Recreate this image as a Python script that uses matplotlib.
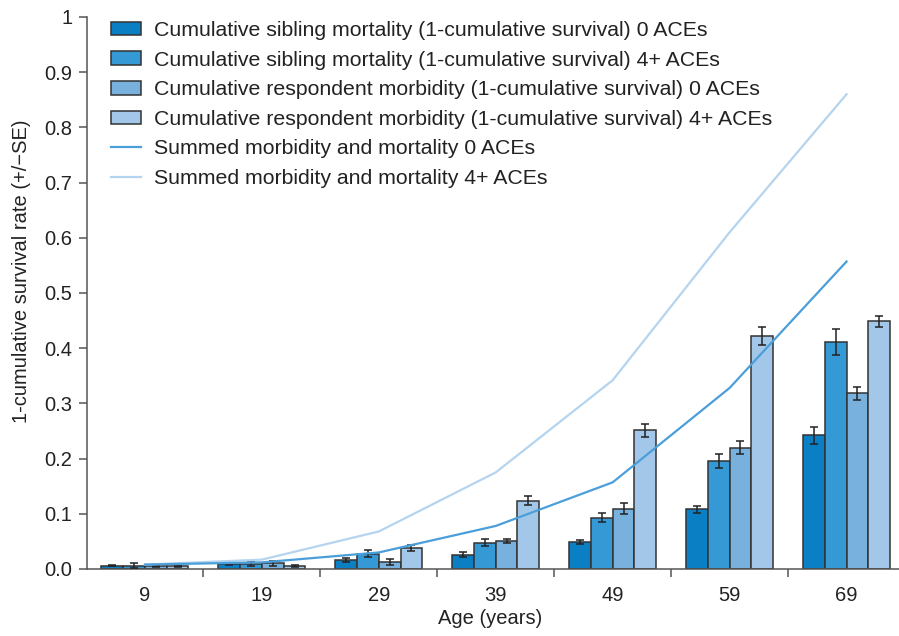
import matplotlib
matplotlib.use("Agg")
import matplotlib.pyplot as plt
import numpy as np
from matplotlib.patches import Patch
from matplotlib.lines import Line2D

plt.rcParams['font.family'] = ['Liberation Sans', 'DejaVu Sans']

ages = ['9', '19', '29', '39', '49', '59', '69']
sib0 = [0.006, 0.009, 0.016, 0.026, 0.049, 0.108, 0.242]
sib0_se = [0.001, 0.002, 0.004, 0.004, 0.004, 0.006, 0.016]
sib4 = [0.006, 0.009, 0.028, 0.048, 0.093, 0.196, 0.411]
sib4_se = [0.005, 0.004, 0.006, 0.006, 0.008, 0.013, 0.023]
res0 = [0.005, 0.010, 0.013, 0.051, 0.109, 0.220, 0.318]
res0_se = [0.001, 0.005, 0.005, 0.004, 0.010, 0.011, 0.012]
res4 = [0.005, 0.006, 0.038, 0.124, 0.251, 0.422, 0.449]
res4_se = [0.001, 0.002, 0.005, 0.008, 0.012, 0.017, 0.010]
sum0 = [0.008, 0.012, 0.030, 0.078, 0.157, 0.328, 0.557]
sum4 = [0.008, 0.017, 0.068, 0.175, 0.342, 0.610, 0.860]

labels = [
    'Cumulative sibling mortality (1-cumulative survival) 0 ACEs',
    'Cumulative sibling mortality (1-cumulative survival) 4+ ACEs',
    'Cumulative respondent morbidity (1-cumulative survival) 0 ACEs',
    'Cumulative respondent morbidity (1-cumulative survival) 4+ ACEs',
    'Summed morbidity and mortality 0 ACEs',
    'Summed morbidity and mortality 4+ ACEs',
]
bar_colors = ['#0a7fc3', '#3499d5', '#78b0de', '#a2c7e9']
line_colors = ['#4a9fda', '#b5d4ef']

W, H = 899, 636
fig = plt.figure(figsize=(W / 100, H / 100), dpi=100)
ax = fig.add_axes([86.5 / W, 1 - 569 / H, (905 - 86.5) / W, (569 - 17) / H])

x = np.arange(len(ages))
bw = 0.186
series = [(sib0, sib0_se), (sib4, sib4_se), (res0, res0_se), (res4, res4_se)]
tfs = 14.5
lfs = 15.3
for i, (vals, se) in enumerate(series):
    off = (i - 1.5) * bw
    ax.bar(x + off, vals, width=bw, color=bar_colors[i], edgecolor='#333333',
           linewidth=1.1, zorder=2)
    ax.errorbar(x + off, vals, yerr=se, fmt='none', ecolor='#222222',
                elinewidth=1.1, capsize=3.2, capthick=1.1, zorder=3)

ax.plot(x, sum4, color=line_colors[1], lw=1.6, zorder=4)
ax.plot(x, sum0, color=line_colors[0], lw=1.6, zorder=4)

ax.set_xlim(-0.5, 6.5)
ax.set_ylim(0, 1)
yt = np.arange(0, 1.01, 0.1)
ax.set_yticks(yt)
ax.set_yticklabels(['0.0'] + [f'{v:.1f}' for v in yt[1:-1]] + ['1'], fontsize=tfs, color='#222222')
ax.set_xticks(np.arange(0.5, 6, 1))
ax.set_xticklabels([])
ax.set_xticks(x, minor=True)
ax.set_xticklabels(ages, minor=True, fontsize=tfs, color='#222222')
ax.tick_params(axis='x', which='minor', length=0, pad=12)
ax.tick_params(axis='x', which='major', length=6, color='#555555', width=1.1)
ax.tick_params(axis='y', length=6, color='#555555', width=1.1, pad=4)
for s in ['top', 'right']:
    ax.spines[s].set_visible(False)
for s in ['left', 'bottom']:
    ax.spines[s].set_color('#555555')
    ax.spines[s].set_linewidth(1.1)

ax.set_xlabel('Age (years)', fontsize=14.5, color='#222222')
ax.xaxis.set_label_coords((490 - 86.5) / (905 - 86.5), -(619 - 569) / (569 - 17), transform=ax.transAxes)
ax.xaxis.label.set_va('center')
ax.set_ylabel('1-cumulative survival rate (+/\u2212SE)', fontsize=tfs, color='#222222')
ax.yaxis.set_label_coords(-(86.5 - 22) / (905 - 86.5), (569 - 271) / (569 - 17), transform=ax.transAxes)
ax.yaxis.label.set_va('center')

handles = [Patch(facecolor=c, edgecolor='#333333', linewidth=1.1) for c in bar_colors]
handles += [Line2D([0], [0], color=c, lw=1.6) for c in line_colors]
leg = fig.legend(handles, labels, loc='upper left', bbox_to_anchor=(111 / W, 1 - 21 / H),
                 frameon=False, fontsize=lfs, handlelength=1.41, handleheight=0.61,
                 handletextpad=0.6, labelspacing=0.5, borderpad=0, borderaxespad=0)
for t in leg.get_texts():
    t.set_color('#222222')

fig.savefig('out.png', dpi=100)
